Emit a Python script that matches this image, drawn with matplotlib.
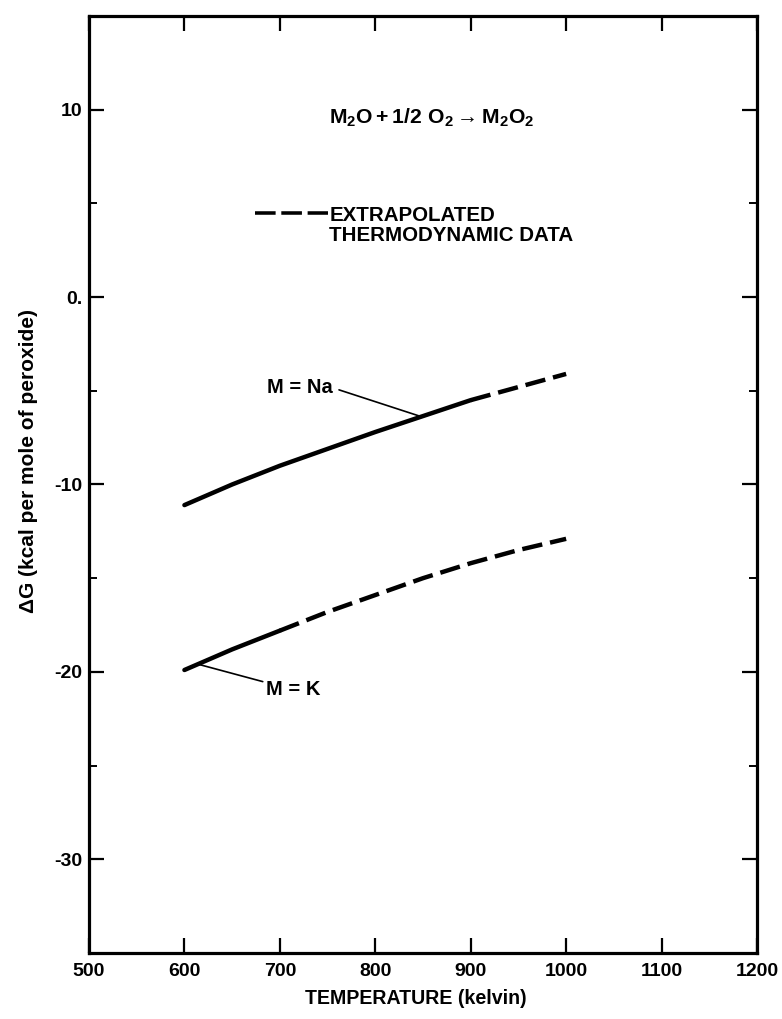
import matplotlib
matplotlib.use("Agg")
import matplotlib.pyplot as plt
import numpy as np

plt.rcParams['font.family'] = ['Liberation Sans', 'DejaVu Sans']
plt.rcParams['font.weight'] = 'bold'
plt.rcParams['mathtext.fontset'] = 'custom'
plt.rcParams['mathtext.rm'] = 'Liberation Sans:bold'
plt.rcParams['mathtext.bf'] = 'Liberation Sans:bold'
plt.rcParams['mathtext.it'] = 'Liberation Sans:bold'

# ---- data ----
temps = [600, 650, 700, 750, 800, 850, 900, 950, 1000]
dg_na = [-11.1, -10.0, -9.0, -8.1, -7.2, -6.35, -5.5, -4.8, -4.1]
dg_k = [-19.9, -18.8, -17.8, -16.8, -15.9, -15.0, -14.2, -13.5, -12.9]
na_split = 900   # solid below, extrapolated (dashed) above
k_split = 700

xticks = [500, 600, 700, 800, 900, 1000, 1100, 1200]
yticks = [-30, -20, -10, 0, 10]
yticklabels = ['-30', '-20', '-10', '0.', '10']
yminor = [-25, -15, -5, 5]

fig = plt.figure(figsize=(7.82, 10.19), dpi=100)
ax = fig.add_axes([0.1138, 0.0648, 0.8542, 0.9195])

t = np.array(temps)
lw = 3.2
dash = (0, (4.6, 1.8))
for vals, split in ((dg_na, na_split), (dg_k, k_split)):
    v = np.array(vals)
    m1 = t <= split
    m2 = t >= split
    ax.plot(t[m1], v[m1], color='black', lw=lw, solid_capstyle='round')
    ax.plot(t[m2], v[m2], color='black', lw=lw, linestyle=dash)

# legend sample
ax.plot([674, 750], [4.5, 4.5], color='black', lw=lw * 0.8, linestyle=(0, (5.8, 1.6)))
ax.text(752, 4.35, 'EXTRAPOLATED', fontsize=14.8, fontweight='bold', va='center', ha='left')
ax.text(752, 3.3, 'THERMODYNAMIC DATA', fontsize=14.8, fontweight='bold', va='center', ha='left')

# reaction
ax.text(859, 9.55, r'$\mathregular{M_2O + 1/2\ O_2 \rightarrow M_2O_2}$', fontsize=15.2,
        ha='center', va='center')

# annotations
ax.text(755, -4.8, 'M = Na', fontsize=14.5, fontweight='bold', ha='right', va='center')
ax.annotate('', xy=(847, -6.36), xytext=(762, -4.95),
            arrowprops=dict(arrowstyle='-', color='black', lw=1.2, shrinkA=0, shrinkB=0))
ax.annotate('M = K', xy=(615, -19.6), xytext=(685, -20.95), fontsize=14.5, fontweight='bold',
            ha='left', va='center',
            arrowprops=dict(arrowstyle='-', color='black', lw=1.2, shrinkA=0, shrinkB=0))

ax.set_xlim(500, 1200)
ax.set_ylim(-35, 15)
ax.set_xticks(xticks)
ax.set_xticklabels([str(x) for x in xticks])
ax.set_yticks(yticks)
ax.set_yticklabels(yticklabels)
ax.set_yticks(yminor, minor=True)

for s in ax.spines.values():
    s.set_linewidth(2.3)
ax.tick_params(which='major', direction='in', length=11, width=1.6, top=True, right=True,
               labelsize=14)
ax.tick_params(axis='x', which='major', pad=7)
ax.tick_params(axis='y', which='major', pad=5)
ax.tick_params(which='minor', direction='in', length=6, width=1.4, left=True, right=True)
for lab in ax.get_xticklabels() + ax.get_yticklabels():
    lab.set_fontweight('bold')

fig.text(416 / 782, 1 - 998 / 1019, 'TEMPERATURE (kelvin)', fontsize=14.1, fontweight='bold',
         ha='center', va='center')
fig.text(29 / 782, 1 - 461 / 1019, 'ΔG (kcal per mole of peroxide)', fontsize=15,
         fontweight='bold', ha='center', va='center', rotation=90)

fig.savefig('out.png', dpi=100)
